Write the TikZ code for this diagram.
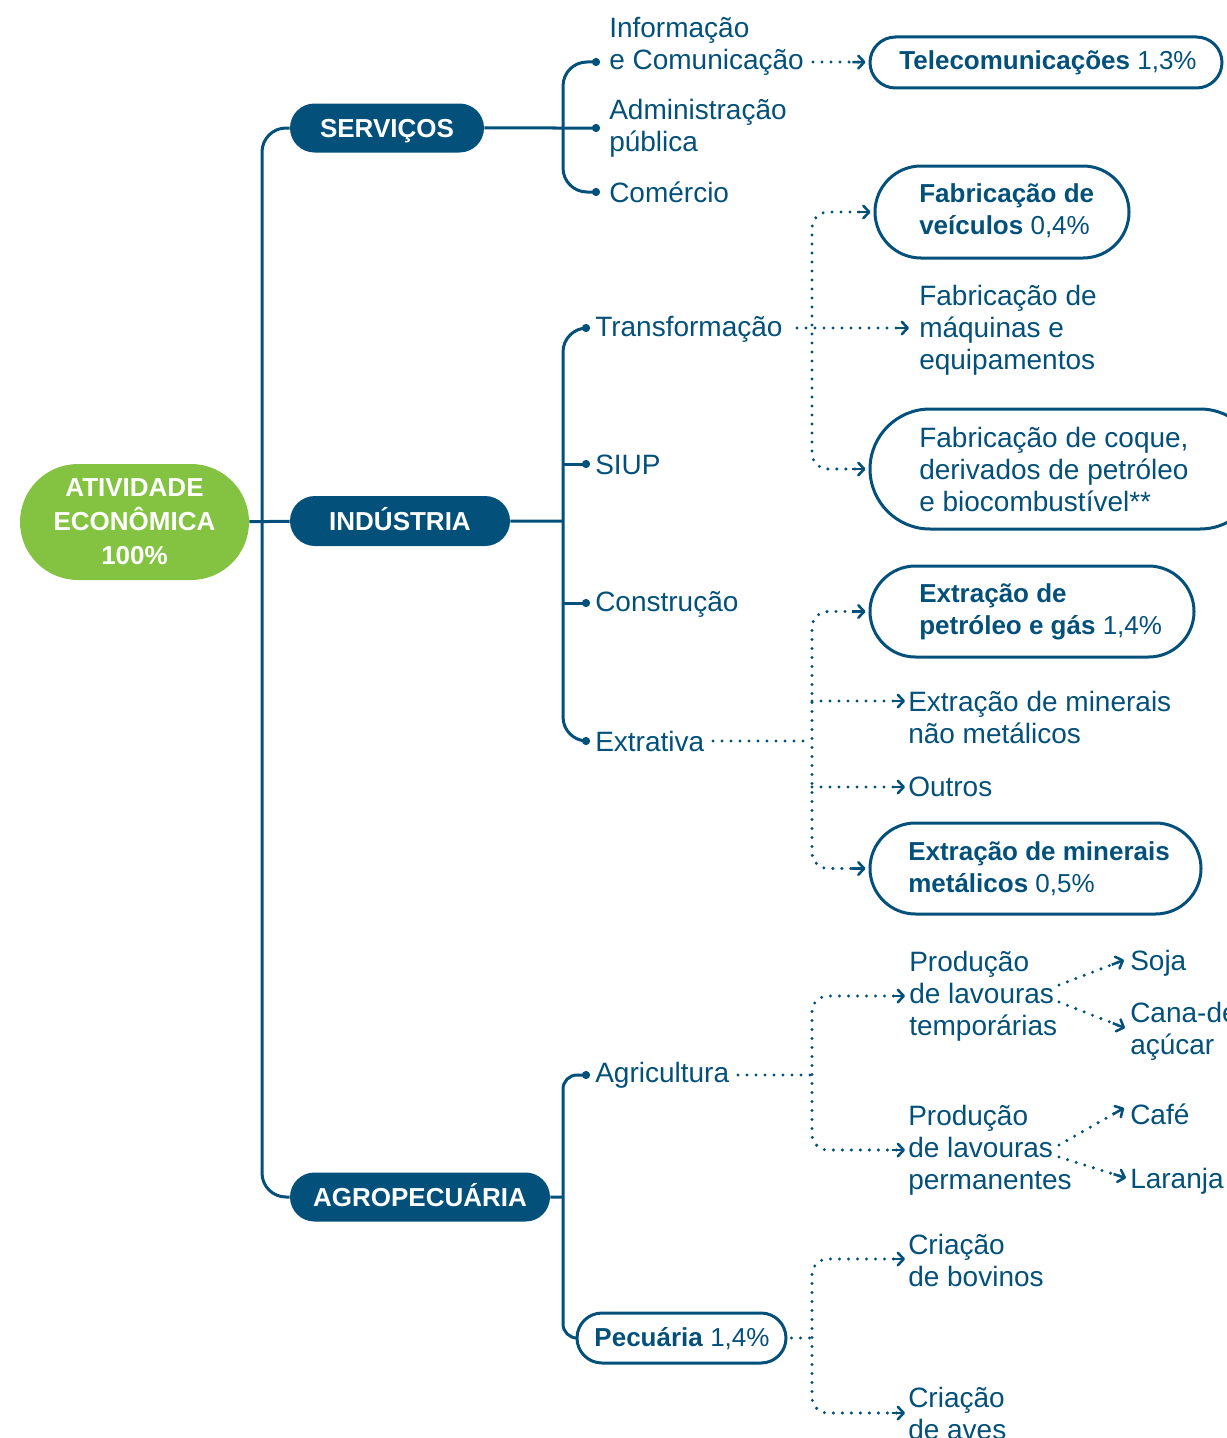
\documentclass[tikz,border=0pt]{standalone}
\usepackage{fontspec}
\setmainfont{Liberation Sans}
\usetikzlibrary{arrows.meta,shapes.misc}
\definecolor{dblue}{HTML}{03507A}
\definecolor{lgreen}{HTML}{84C341}
\def\px{*0.75pt}
\begin{document}
\begin{tikzpicture}[x=0.75pt,y=-0.75pt,
  txt/.style={anchor=west, inner sep=0pt, align=left, text=dblue, font=\fontsize{21}{24}\selectfont},
  btxt/.style={anchor=west, inner sep=0pt, align=left, text=dblue, font=\fontsize{19.5}{24}\selectfont},
  filled/.style={rounded rectangle, fill=dblue, text=white, inner sep=0pt, align=center, font=\bfseries\fontsize{19.5}{25.5}\selectfont},
  caps/.style={text height=14pt, text depth=0pt},
  obox/.style={rounded rectangle, draw=dblue, line width=2.25pt, inner sep=0pt},
  mline/.style={draw=dblue, line width=2.25pt},
  dline/.style={draw=dblue, line width=2.5pt, line cap=round, dash pattern=on 0pt off 6.75pt},
  tipa/.tip={Rectangle[length=8pt,width=1.9pt,line width=0pt,sep=-4.6pt] Straight Barb[length=4.5pt,width=9.5pt,round,line width=1.9pt]},
  arr/.style={-tipa},
  arrtwo/.style={tipa-tipa},
  dotend/.style={-{Circle[length=6pt]}},
  dottwo/.style={{Circle[length=6pt]}-{Circle[length=6pt]}},
  dotone/.style={{Circle[length=6pt]}-}
]
\useasboundingbox (0,0) rectangle (1227,1438);

% main nodes
\node[filled, fill=lgreen, minimum width=229\px, minimum height=116\px] (root) at (134.5,522) {ATIVIDADE\\ECONÔMICA\\100\%};
\node[filled, caps, minimum width=194\px, minimum height=49\px] (serv) at (387,128) {SERVIÇOS};
\node[filled, caps, minimum width=220\px, minimum height=50\px] (ind) at (400,521) {INDÚSTRIA};
\node[filled, caps, minimum width=260\px, minimum height=49\px] (agro) at (420,1197) {AGROPECUÁRIA};

% trunk
\coordinate (trunk) at (262,521);
\draw[mline, rounded corners=24\px] (serv.west) -| (trunk) |- (agro.west);
\draw[mline] (root) -- (ind);

% services
\coordinate (sB) at (563,128);
\coordinate (infoDot) at (600,62);
\coordinate (adminDot) at (600,128);
\coordinate (comDot) at (600,192);
\draw[mline, dotend] (serv) -- (adminDot);
\draw[mline, rounded corners=24\px, dottwo] (infoDot) -| (sB) |- (comDot);
\node[txt] (info) at (609,46) {Informação\\e Comunicação};
\node[txt] (admin) at (609,128) {Administração\\pública};
\node[txt] (com) at (609,192) {Comércio};

\node[obox, minimum width=352\px, minimum height=51\px] (tele) at (1046,62.5) {};
\node[btxt, anchor=center] (teleT) at (1048,63) {\textbf{Telecomunicações} 1,3\%};
\coordinate (infoOut) at (813,62);
\draw[dline, arr, shorten >=3\px] (infoOut) -- (tele);

% industry
\coordinate (iB) at (563,521);
\coordinate (transDot) at (590,328);
\coordinate (siupDot) at (590,464);
\coordinate (consDot) at (590,603);
\coordinate (extrDot) at (590,741);
\draw[mline] (ind) -- (iB);
\draw[mline, rounded corners=24\px, dottwo] (transDot) -| (iB) |- (extrDot);
\draw[mline, dotend] (iB |- siupDot) -- (siupDot);
\draw[mline, dotend] (iB |- consDot) -- (consDot);
\node[txt] (trans) at (595,329) {Transformação};
\node[txt] (siup) at (595,465) {SIUP};
\node[txt] (cons) at (595,604) {Construção};
\node[txt] (extr) at (595,741) {Extrativa};

% transformação children
\node[obox, minimum width=254\px, minimum height=92\px] (veic) at (1002,212) {};
\node[btxt] (veicT) at (919,211) {\textbf{Fabricação de}\\\textbf{veículos} 0,4\%};
\node[txt] (maq) at (919,330) {Fabricação de\\máquinas e\\equipamentos};
\node[obox, minimum width=390\px, minimum height=120\px] (coque) at (1065,469) {};
\node[txt] (coqueT) at (919,469) {Fabricação de coque,\\derivados de petróleo\\e biocombustível**};
\coordinate (transOut) at (797,328);
\coordinate (tV) at (812,328);
\coordinate (maqIn) at (909,328);
\draw[dline, arr] (transOut) -- (maqIn);
\draw[dline, rounded corners=16\px, arrtwo, shorten <=3\px, shorten >=3\px] (veic) -| (tV) |- (coque);

% extrativa children
\node[obox, minimum width=324\px, minimum height=91\px] (petro) at (1032,611.5) {};
\node[btxt] (petroT) at (919,612) {\textbf{Extração de}\\\textbf{petróleo e gás} 1,4\%};
\node[txt] (nao) at (908,717) {Extração de minerais\\não metálicos};
\node[txt] (outros) at (908,787) {Outros};
\node[obox, minimum width=331\px, minimum height=91\px] (metal) at (1035.5,868.5) {};
\node[btxt] (metalT) at (908,869) {\textbf{Extração de minerais}\\\textbf{metálicos} 0,5\%};
\coordinate (extrOut) at (713,741);
\coordinate (eV) at (812,741);
\coordinate (naoIn) at (905,701);
\coordinate (outIn) at (905,787);
\draw[dline] (extrOut) -- (eV);
\draw[dline, rounded corners=16\px, arrtwo, shorten <=3\px, shorten >=3\px] (petro) -| (eV) |- (metal);
\draw[dline, arr] (eV |- naoIn) -- (naoIn);
\draw[dline, arr] (eV |- outIn) -- (outIn);

% agro
\coordinate (aB) at (563,1197);
\coordinate (agriDot) at (590,1075);
\draw[mline] (agro) -- (aB);
\node[obox, minimum width=209\px, minimum height=50\px] (pec) at (681.5,1338) {};
\node[btxt, anchor=center] (pecT) at (682,1339) {\textbf{Pecuária} 1,4\%};
\draw[mline, rounded corners=14\px, dotone] (agriDot) -| (aB) |- (pec.west);
\node[txt] (agri) at (595,1075) {Agricultura};

% agricultura children
\node[txt] (temp) at (909,996) {Produção\\de lavouras\\temporárias};
\node[txt] (perm) at (908,1150) {Produção\\de lavouras\\permanentes};
\coordinate (agriOut) at (738,1075);
\coordinate (aV) at (812,1075);
\coordinate (tempIn) at (905,996);
\coordinate (permIn) at (905,1150);
\draw[dline] (agriOut) -- (aV);
\draw[dline, rounded corners=16\px, arrtwo] (tempIn) -| (aV) |- (permIn);

\node[txt] (soja) at (1130,963) {Soja};
\node[txt] (cana) at (1130,1031) {Cana-de-\\açúcar};
\node[txt] (cafe) at (1130,1114) {Café};
\node[txt] (laranja) at (1130,1181) {Laranja};
\coordinate (tOa) at (1059,985);
\coordinate (tOb) at (1059,1002);
\coordinate (pOa) at (1059,1145);
\coordinate (pOb) at (1059,1157);
\coordinate (sojaIn) at (1124,960);
\coordinate (canaIn) at (1125,1028);
\coordinate (cafeIn) at (1124,1108);
\coordinate (larIn) at (1126,1178);
\draw[dline, arr] (tOa) -- (sojaIn);
\draw[dline, arr] (tOb) -- (canaIn);
\draw[dline, arr] (pOa) -- (cafeIn);
\draw[dline, arr] (pOb) -- (larIn);

% pecuária children
\node[txt] (bov) at (908,1260) {Criação\\de bovinos};
\node[txt] (aves) at (908,1413) {Criação\\de aves};
\coordinate (pV) at (812,1338);
\coordinate (bovIn) at (905,1259);
\coordinate (avesIn) at (905,1413);
\draw[dline, shorten <=4\px] (pec) -- (pV);
\draw[dline, rounded corners=16\px, arrtwo] (bovIn) -| (pV) |- (avesIn);
\end{tikzpicture}
\end{document}
